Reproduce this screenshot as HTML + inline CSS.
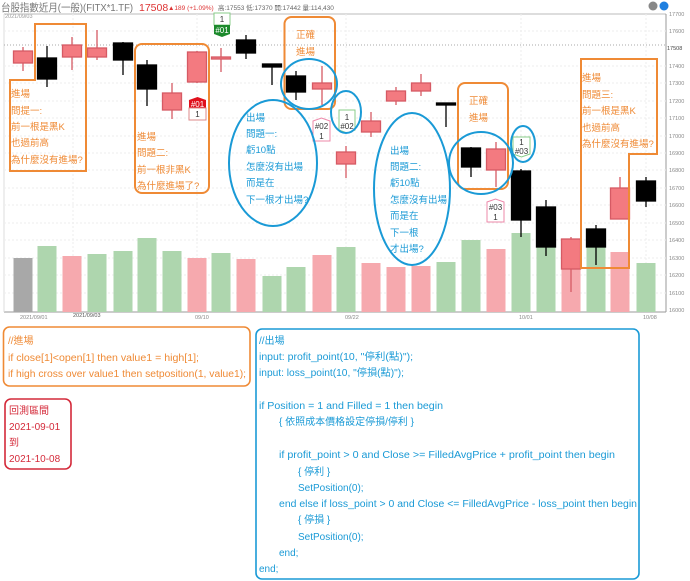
<!DOCTYPE html>
<html><head><meta charset="utf-8"><style>
html,body{margin:0;padding:0;background:#fff;}
svg{display:block;}
.a{font-family:"Liberation Sans","Noto Sans CJK TC",sans-serif;}
</style></head><body>
<svg width="690" height="581" viewBox="0 0 690 581" xmlns="http://www.w3.org/2000/svg" class="a">
<!-- header -->
<text x="1" y="11" font-size="10.5" fill="#777" textLength="132" lengthAdjust="spacingAndGlyphs">台股指數近月(一般)(FITX*1.TF)</text>
<text x="139" y="11" font-size="10.5" fill="#d33">17508</text>
<text x="168" y="10" font-size="6.5" fill="#d33">▲189 (+1.09%)</text>
<text x="218" y="10" font-size="6.5" fill="#666">高:17553 低:17370 開:17442 量:114,430</text>
<circle cx="653" cy="6" r="4.5" fill="#888"/><circle cx="664" cy="6" r="4.5" fill="#1e7fe0"/>
<text x="5" y="18" font-size="5.5" fill="#999">2021/09/03</text>
<!-- chart frame -->
<line x1="4" y1="14" x2="666" y2="14" stroke="#bbb" stroke-width="1"/>
<line x1="666" y1="14" x2="666" y2="312" stroke="#999"/>
<line x1="4" y1="312" x2="666" y2="312" stroke="#999"/>
<line x1="4" y1="14" x2="4" y2="312" stroke="#ddd"/>
<g stroke="#eee" stroke-width="1" stroke-dasharray="2,2">
<line x1="4" y1="31" x2="666" y2="31"/><line x1="4" y1="66" x2="666" y2="66"/><line x1="4" y1="83" x2="666" y2="83"/><line x1="4" y1="101" x2="666" y2="101"/><line x1="4" y1="118" x2="666" y2="118"/><line x1="4" y1="136" x2="666" y2="136"/><line x1="4" y1="153" x2="666" y2="153"/><line x1="4" y1="170" x2="666" y2="170"/><line x1="4" y1="188" x2="666" y2="188"/><line x1="4" y1="205" x2="666" y2="205"/><line x1="4" y1="223" x2="666" y2="223"/><line x1="4" y1="240" x2="666" y2="240"/><line x1="4" y1="258" x2="666" y2="258"/><line x1="4" y1="275" x2="666" y2="275"/><line x1="4" y1="293" x2="666" y2="293"/>
<line x1="73" y1="14" x2="73" y2="312"/><line x1="197" y1="14" x2="197" y2="312"/><line x1="346" y1="14" x2="346" y2="312"/><line x1="521" y1="14" x2="521" y2="312"/><line x1="646" y1="14" x2="646" y2="312"/>
</g>
<line x1="4" y1="45" x2="666" y2="45" stroke="#aaa" stroke-dasharray="1,2"/>
<g font-size="5.5" fill="#888">
<text x="669" y="16">17700</text><text x="669" y="33">17600</text><text x="667" y="50" fill="#444">17508</text><text x="669" y="68">17400</text><text x="669" y="85">17300</text><text x="669" y="103">17200</text><text x="669" y="120">17100</text><text x="669" y="138">17000</text><text x="669" y="155">16900</text><text x="669" y="172">16800</text><text x="669" y="190">16700</text><text x="669" y="207">16600</text><text x="669" y="225">16500</text><text x="669" y="242">16400</text><text x="669" y="260">16300</text><text x="669" y="277">16200</text><text x="669" y="295">16100</text><text x="669" y="312">16000</text>
<text x="20" y="319">2021/09/01</text><text x="73" y="317" fill="#555">2021/09/03</text><text x="195" y="319">09/10</text><text x="345" y="319">09/22</text><text x="519" y="319">10/01</text><text x="643" y="319">10/08</text>
</g>
<!-- volume -->
<g>
<rect x="13.5" y="258" width="19" height="54" fill="#a8a8a8"/>
<rect x="37.5" y="246" width="19" height="66" fill="#aed6ae"/>
<rect x="62.5" y="256" width="19" height="56" fill="#f6a9ae"/>
<rect x="87.5" y="254" width="19" height="58" fill="#aed6ae"/>
<rect x="113.5" y="251" width="19" height="61" fill="#aed6ae"/>
<rect x="137.5" y="238" width="19" height="74" fill="#aed6ae"/>
<rect x="162.5" y="251" width="19" height="61" fill="#aed6ae"/>
<rect x="187.5" y="258" width="19" height="54" fill="#f6a9ae"/>
<rect x="211.5" y="253" width="19" height="59" fill="#aed6ae"/>
<rect x="236.5" y="259" width="19" height="53" fill="#f6a9ae"/>
<rect x="262.5" y="276" width="19" height="36" fill="#aed6ae"/>
<rect x="286.5" y="267" width="19" height="45" fill="#aed6ae"/>
<rect x="312.5" y="255" width="19" height="57" fill="#f6a9ae"/>
<rect x="336.5" y="247" width="19" height="65" fill="#aed6ae"/>
<rect x="361.5" y="263" width="19" height="49" fill="#f6a9ae"/>
<rect x="386.5" y="267" width="19" height="45" fill="#f6a9ae"/>
<rect x="411.5" y="266" width="19" height="46" fill="#f6a9ae"/>
<rect x="436.5" y="262" width="19" height="50" fill="#aed6ae"/>
<rect x="461.5" y="240" width="19" height="72" fill="#aed6ae"/>
<rect x="486.5" y="249" width="19" height="63" fill="#f6a9ae"/>
<rect x="511.5" y="233" width="19" height="79" fill="#aed6ae"/>
<rect x="536.5" y="247" width="19" height="65" fill="#aed6ae"/>
<rect x="561.5" y="239" width="19" height="73" fill="#f6a9ae"/>
<rect x="586.5" y="247" width="19" height="65" fill="#aed6ae"/>
<rect x="610.5" y="252" width="19" height="60" fill="#f6a9ae"/>
<rect x="636.5" y="263" width="19" height="49" fill="#aed6ae"/>
</g>
<!-- candles -->
<g stroke-width="1.3">
<g stroke="#d65a64" fill="#f37a80">
<line x1="23" y1="47" x2="23" y2="71"/><rect x="13.5" y="51" width="19" height="12"/>
<line x1="72" y1="37" x2="72" y2="70"/><rect x="62.5" y="45" width="19" height="12"/>
<line x1="97" y1="30" x2="97" y2="60"/><rect x="87.5" y="48" width="19" height="9"/>
<line x1="172" y1="83" x2="172" y2="119"/><rect x="162.5" y="93" width="19" height="17"/>
<line x1="197" y1="51" x2="197" y2="83"/><rect x="187.5" y="52" width="19" height="30"/>
<line x1="221" y1="48" x2="221" y2="72"/><rect x="211.5" y="57" width="19" height="2"/>
<line x1="322" y1="66" x2="322" y2="105"/><rect x="312.5" y="83" width="19" height="6"/>
<line x1="346" y1="146" x2="346" y2="178"/><rect x="336.5" y="152" width="19" height="12"/>
<line x1="371" y1="112" x2="371" y2="137"/><rect x="361.5" y="121" width="19" height="11"/>
<line x1="396" y1="87" x2="396" y2="105"/><rect x="386.5" y="91" width="19" height="10"/>
<line x1="421" y1="74" x2="421" y2="96"/><rect x="411.5" y="83" width="19" height="8"/>
<line x1="496" y1="142" x2="496" y2="187"/><rect x="486.5" y="149" width="19" height="21"/>
<line x1="571" y1="237" x2="571" y2="292"/><rect x="561.5" y="239" width="19" height="30"/>
<line x1="620" y1="177" x2="620" y2="219"/><rect x="610.5" y="188" width="19" height="31"/>
</g>
<g stroke="#000" fill="#000">
<line x1="47" y1="46" x2="47" y2="87"/><rect x="37.5" y="58" width="19" height="21"/>
<line x1="123" y1="42" x2="123" y2="75"/><rect x="113.5" y="43" width="19" height="17"/>
<line x1="147" y1="60" x2="147" y2="106"/><rect x="137.5" y="65" width="19" height="24"/>
<line x1="246" y1="35" x2="246" y2="59"/><rect x="236.5" y="40" width="19" height="13"/>
<line x1="272" y1="64" x2="272" y2="85"/><rect x="262.5" y="64" width="19" height="3"/>
<line x1="296" y1="71" x2="296" y2="100"/><rect x="286.5" y="76" width="19" height="16"/>
<line x1="446" y1="104" x2="446" y2="127"/><rect x="436.5" y="103" width="19" height="2"/>
<line x1="471" y1="147" x2="471" y2="177"/><rect x="461.5" y="148" width="19" height="19"/>
<line x1="521" y1="169" x2="521" y2="237"/><rect x="511.5" y="171" width="19" height="49"/>
<line x1="546" y1="200" x2="546" y2="256"/><rect x="536.5" y="207" width="19" height="40"/>
<line x1="596" y1="225" x2="596" y2="265"/><rect x="586.5" y="229" width="19" height="18"/>
<line x1="646" y1="177" x2="646" y2="207"/><rect x="636.5" y="181" width="19" height="20"/>
</g>
</g>
<!-- markers -->
<g font-size="8" text-anchor="middle">
<rect x="214" y="13" width="16" height="12" fill="#fff" stroke="#8c8"/><text x="222" y="22" fill="#333">1</text>
<path d="M214 25 H230 V34 L222 37 L214 34Z" fill="#1c8a2c"/><text x="222" y="33" fill="#fff">#01</text>
<path d="M189 100 L197.5 97 L206 100 V108 H189Z" fill="#e0101c"/><text x="197.5" y="107" fill="#fff">#01</text>
<rect x="189" y="108" width="17" height="12" fill="#fff" stroke="#d88"/><text x="197.5" y="117" fill="#333">1</text>
<path d="M313 121 L321.5 118 L330 121 V141 H313Z" fill="#fff" stroke="#e8a"/><text x="321.5" y="129" fill="#333">#02</text><text x="321.5" y="139" fill="#333">1</text>
<path d="M339 110 H355 V130 L347 133 L339 130Z" fill="#fff" stroke="#8c8"/><text x="347" y="120" fill="#333">1</text><text x="347" y="129" fill="#333">#02</text>
<path d="M487 202 L495.5 199 L504 202 V222 H487Z" fill="#fff" stroke="#e8a"/><text x="495.5" y="210" fill="#333">#03</text><text x="495.5" y="220" fill="#333">1</text>
<path d="M513 137 H530 V154 L521.5 157 L513 154Z" fill="#fff" stroke="#8c8"/><text x="521.5" y="145" fill="#333">1</text><text x="521.5" y="154" fill="#333">#03</text>
</g>
<!-- orange annotations -->
<g fill="none" stroke="#ef8a35" stroke-width="2">
<path d="M35 24 H86 V171 H10 V80 H35Z"/>
<rect x="135" y="44" width="74" height="149" rx="7"/>
<rect x="284.5" y="17" width="50.5" height="92" rx="7"/>
<rect x="458" y="83" width="50" height="106" rx="7"/>
<path d="M581 59 H657 V154 H629 V268 H581Z"/>
</g>
<g fill="#ef8a35" font-size="9.5">
<text x="11" y="97">進場</text><text x="11" y="114">問提一:</text><text x="11" y="130">前一根是黑K</text><text x="11" y="146">也過前高</text><text x="11" y="163">為什麼沒有進場?</text>
<text x="137" y="140">進場</text><text x="137" y="156">問題二:</text><text x="137" y="173">前一根非黑K</text><text x="137" y="189">為什麼進場了?</text>
<text x="296" y="38">正確</text><text x="296" y="55">進場</text>
<text x="469" y="104">正確</text><text x="469" y="121">進場</text>
<text x="582" y="81">進場</text><text x="582" y="98">問題三:</text><text x="582" y="114">前一根是黑K</text><text x="582" y="131">也過前高</text><text x="582" y="147">為什麼沒有進場?</text>
</g>
<!-- blue ellipses -->
<g fill="none" stroke="#1a9ad6" stroke-width="2">
<ellipse cx="273" cy="163" rx="44" ry="63"/>
<ellipse cx="309" cy="84" rx="28" ry="25"/>
<ellipse cx="346" cy="112" rx="15" ry="21"/>
<ellipse cx="412" cy="189" rx="38" ry="76"/>
<ellipse cx="481" cy="163" rx="32" ry="31"/>
<ellipse cx="523" cy="144" rx="12" ry="18"/>
</g>
<g fill="#1a9ad6" font-size="9.5">
<text x="246" y="121">出場</text><text x="246" y="137">問題一:</text><text x="246" y="153">虧10點</text><text x="246" y="170">怎麼沒有出場</text><text x="246" y="186">而是在</text><text x="246" y="203">下一根才出場?</text>
<text x="390" y="154">出場</text><text x="390" y="170">問題二:</text><text x="390" y="186">虧10點</text><text x="390" y="203">怎麼沒有出場</text><text x="390" y="219">而是在</text><text x="390" y="236">下一根</text><text x="390" y="252">才出場?</text>
</g>
<!-- code boxes -->
<rect x="3.5" y="327" width="246.5" height="59" rx="6" fill="none" stroke="#ef8a35" stroke-width="1.6"/>
<g fill="#ef8a35" font-size="10">
<text x="8" y="344">//進場</text>
<text x="8" y="361" textLength="191" lengthAdjust="spacingAndGlyphs">if close[1]&lt;open[1] then value1 = high[1];</text>
<text x="8" y="377" textLength="238" lengthAdjust="spacingAndGlyphs">if high cross over value1 then setposition(1, value1);</text>
</g>
<rect x="5" y="399" width="66" height="70" rx="6" fill="none" stroke="#d42a3a" stroke-width="1.6"/>
<g fill="#d42a3a" font-size="10">
<text x="9" y="414">回測區間</text><text x="9" y="430">2021-09-01</text><text x="9" y="446">到</text><text x="9" y="462">2021-10-08</text>
</g>
<rect x="256" y="329" width="383" height="250" rx="6" fill="none" stroke="#1a9ad6" stroke-width="1.6"/>
<g fill="#1a9ad6" font-size="10">
<text x="259" y="344">//出場</text>
<text x="259" y="360" textLength="154" lengthAdjust="spacingAndGlyphs">input: profit_point(10, "停利(點)");</text>
<text x="259" y="376" textLength="145" lengthAdjust="spacingAndGlyphs">input: loss_point(10, "停損(點)");</text>
<text x="259" y="409" textLength="184" lengthAdjust="spacingAndGlyphs">if Position = 1 and Filled = 1 then begin</text>
<text x="279" y="425">{ 依照成本價格設定停損/停利 }</text>
<text x="279" y="458" textLength="336" lengthAdjust="spacingAndGlyphs">if profit_point &gt; 0 and Close &gt;= FilledAvgPrice + profit_point then begin</text>
<text x="298" y="475">{ 停利 }</text>
<text x="298" y="491">SetPosition(0);</text>
<text x="279" y="507" textLength="358" lengthAdjust="spacingAndGlyphs">end else if loss_point &gt; 0 and Close &lt;= FilledAvgPrice - loss_point then begin</text>
<text x="298" y="523">{ 停損 }</text>
<text x="298" y="540">SetPosition(0);</text>
<text x="279" y="556">end;</text>
<text x="259" y="572">end;</text>
</g>
</svg>
</body></html>
